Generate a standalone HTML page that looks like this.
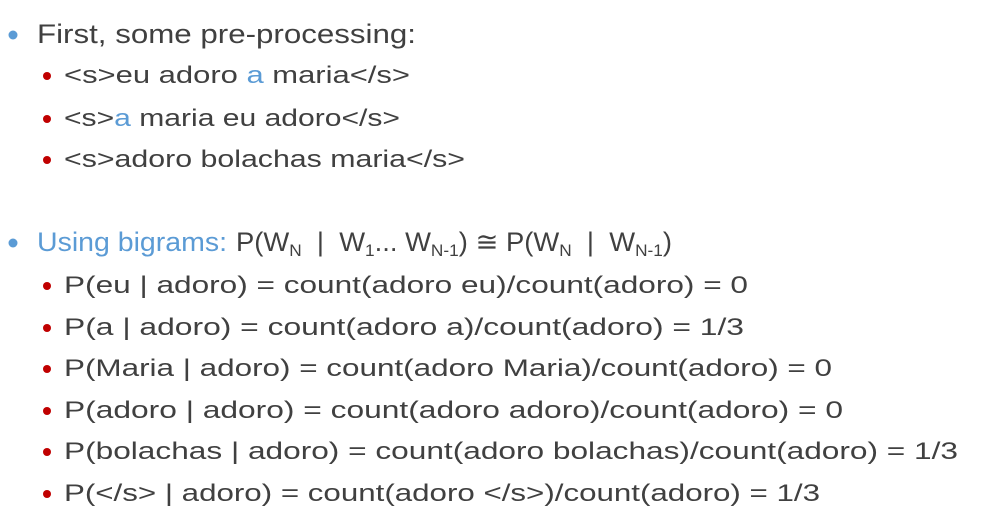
<!DOCTYPE html>
<html><head><meta charset="utf-8"><style>
html,body{margin:0;padding:0;background:#fff;}
svg{display:block;font-family:"Liberation Sans",sans-serif;}
</style></head><body>
<svg width="983" height="527" viewBox="0 0 983 527" xmlns="http://www.w3.org/2000/svg">
<g fill="#5b9bd5">
<circle cx="13" cy="35" r="4.5"/><circle cx="13" cy="243" r="4.5"/>
</g>
<g fill="#c00000">
<circle cx="47" cy="76" r="4"/><circle cx="47" cy="119" r="4"/><circle cx="47" cy="160" r="4"/>
<circle cx="47" cy="286" r="4"/><circle cx="47" cy="328" r="4"/><circle cx="47" cy="369" r="4"/>
<circle cx="47" cy="411" r="4"/><circle cx="47" cy="452" r="4"/><circle cx="47" cy="494" r="4"/>
</g>
<g fill="#404040" font-size="27">
<text x="37" y="43" textLength="379" lengthAdjust="spacingAndGlyphs">First, some pre-processing:</text>
</g>
<g fill="#404040" font-size="24">
<text x="64" y="83" textLength="346" lengthAdjust="spacingAndGlyphs">&lt;s&gt;eu adoro <tspan fill="#5b9bd5">a</tspan> maria&lt;/s&gt;</text>
<text x="64" y="126" textLength="336" lengthAdjust="spacingAndGlyphs">&lt;s&gt;<tspan fill="#5b9bd5">a</tspan> maria eu adoro&lt;/s&gt;</text>
<text x="64" y="167" textLength="401" lengthAdjust="spacingAndGlyphs">&lt;s&gt;adoro bolachas maria&lt;/s&gt;</text>
<text x="64" y="293" textLength="684" lengthAdjust="spacingAndGlyphs">P(eu | adoro) = count(adoro eu)/count(adoro) = 0</text>
<text x="64" y="335" textLength="680" lengthAdjust="spacingAndGlyphs">P(a | adoro) = count(adoro a)/count(adoro) = 1/3</text>
<text x="64" y="376" textLength="768" lengthAdjust="spacingAndGlyphs">P(Maria | adoro) = count(adoro Maria)/count(adoro) = 0</text>
<text x="64" y="418" textLength="779" lengthAdjust="spacingAndGlyphs">P(adoro | adoro) = count(adoro adoro)/count(adoro) = 0</text>
<text x="64" y="459" textLength="894" lengthAdjust="spacingAndGlyphs">P(bolachas | adoro) = count(adoro bolachas)/count(adoro) = 1/3</text>
<text x="64" y="501" textLength="756" lengthAdjust="spacingAndGlyphs">P(&lt;/s&gt; | adoro) = count(adoro &lt;/s&gt;)/count(adoro) = 1/3</text>
</g>
<g font-size="27">
<text x="37" y="251" fill="#5b9bd5" textLength="190" lengthAdjust="spacingAndGlyphs">Using bigrams:</text>
<text x="236" y="251" fill="#404040" textLength="436" lengthAdjust="spacingAndGlyphs" xml:space="preserve">P(W<tspan font-size="17" dy="5">N</tspan><tspan dy="-5">  |  W</tspan><tspan font-size="17" dy="5">1</tspan><tspan dy="-5">... W</tspan><tspan font-size="17" dy="5">N-1</tspan><tspan dy="-5">) ≅ P(W</tspan><tspan font-size="17" dy="5">N</tspan><tspan dy="-5">  |  W</tspan><tspan font-size="17" dy="5">N-1</tspan><tspan dy="-5">)</tspan></text>
</g>
</svg>
</body></html>
